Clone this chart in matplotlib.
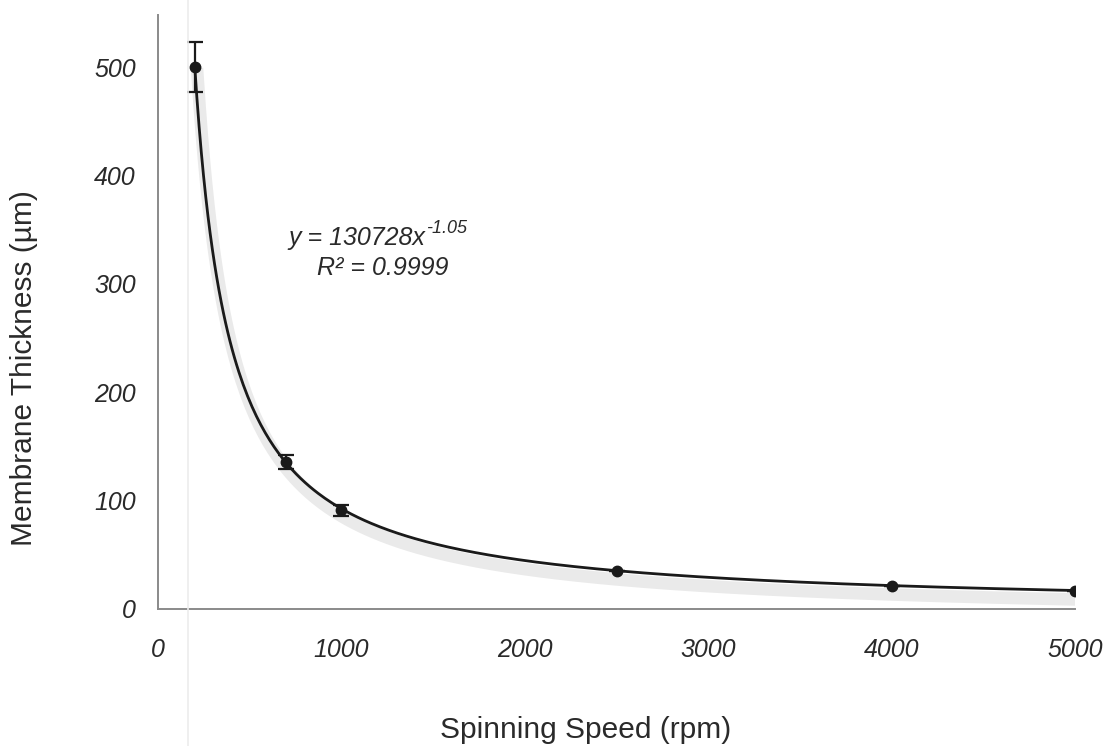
import numpy as np
import matplotlib
matplotlib.use("Agg")
import matplotlib.pyplot as plt
import matplotlib.patheffects as pe
from matplotlib.lines import Line2D
from matplotlib.transforms import offset_copy

# Data
speed_rpm = [200, 700, 1000, 2500, 4000, 5000]
thickness_um = [500, 136, 91, 35, 21, 17]
thickness_err = [23, 6.5, 5, 0, 0, 0]

# Power-law trendline parameters (as shown on the chart)
fit_coef = 130728
fit_exp = -1.05
fit_r2 = 0.9999

x_ticks = [0, 1000, 2000, 3000, 4000, 5000]
y_ticks = [0, 100, 200, 300, 400, 500]

plt.rcParams['font.family'] = ['Liberation Sans', 'DejaVu Sans']

W, H = 1111, 746
fig = plt.figure(figsize=(W / 100, H / 100), dpi=100)
ax = fig.add_axes([158 / W, 1 - 609 / H, (1075 - 158) / W, (609 - 15) / H])

# faint vertical scan line
fig.add_artist(Line2D([188 / W, 188 / W], [0, 1], color='#ececec', lw=1.2))

txt_color = '#2a2a2a'

# trendline
xs = np.linspace(min(speed_rpm), max(speed_rpm), 400)
ys = fit_coef * xs ** fit_exp
ax.plot(xs, ys, color='#1a1a1a', lw=2.0, zorder=3,
        path_effects=[pe.SimpleLineShadow(offset=(2, -6.5), shadow_color='#a0a0a0',
                                          alpha=0.22, linewidth=9),
                      pe.Normal()])

# data points with error bars
ax.errorbar(speed_rpm, thickness_um, yerr=thickness_err, fmt='o', color='#1a1a1a',
            ms=7.5, capsize=6, capthick=1.6, elinewidth=1.6, zorder=4)

ax.set_xlim(0, 5000)
ax.set_ylim(0, 548)
ax.set_xticks(x_ticks)
ax.set_yticks(y_ticks)
ax.set_xticklabels([str(t) for t in x_ticks], fontsize=18, style='italic', color=txt_color)
ax.set_yticklabels([str(t) for t in y_ticks], fontsize=18, style='italic', color=txt_color)
ax.tick_params(axis='both', length=0)
ax.tick_params(axis='x', pad=21)
ax.tick_params(axis='y', pad=16)

for s in ['top', 'right']:
    ax.spines[s].set_visible(False)
for s in ['left', 'bottom']:
    ax.spines[s].set_color('#8a8a8a')
    ax.spines[s].set_linewidth(1.4)

fig.text(586 / W, 1 - 730 / H, 'Spinning Speed (rpm)', fontsize=21.5, color=txt_color,
         ha='center', va='center')
fig.text(24 / W, 1 - 368 / H, 'Membrane Thickness (µm)', fontsize=21.5, color=txt_color,
         ha='center', va='center', rotation=90)

# trendline equation: main part + superscript exponent
eq_main = fig.text(288 / W, 1 - 245 / H, 'y = %dx' % fit_coef, fontsize=18,
                   style='italic', color=txt_color, ha='left', va='baseline')
fig.canvas.draw()
bb = eq_main.get_window_extent(renderer=fig.canvas.get_renderer())
fig.text(bb.x1 / W + 1 / W, 1 - 233 / H, '%.2f' % fit_exp, fontsize=13,
         style='italic', color=txt_color, ha='left', va='baseline')
fig.text(383 / W, 1 - 275 / H, 'R² = %.4f' % fit_r2,
         fontsize=18, style='italic', color=txt_color, ha='center', va='baseline')

fig.savefig('out.png', dpi=100)
